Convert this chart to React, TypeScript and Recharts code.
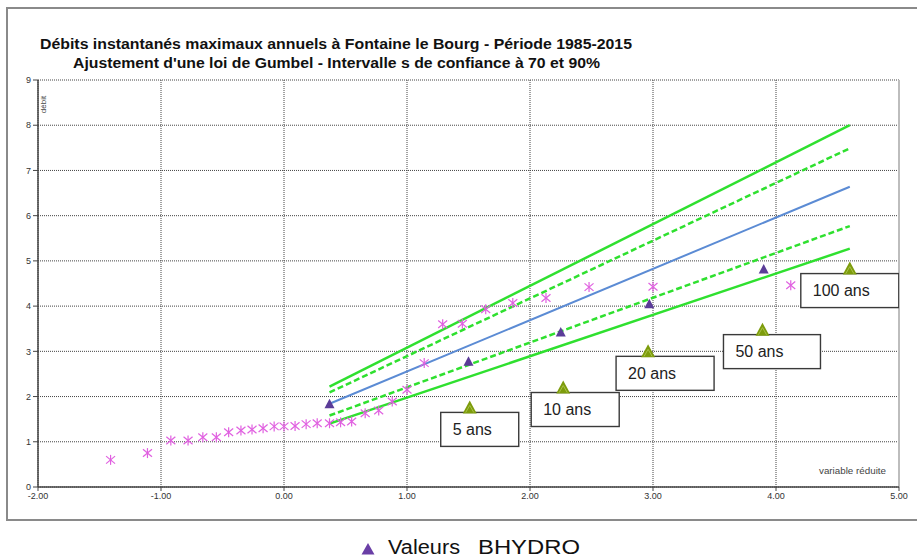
import React from "react";
import {
  CartesianGrid,
  ComposedChart,
  ReferenceLine,
  Scatter,
  XAxis,
  YAxis,
} from "recharts";

// variable réduite de Gumbel des crues observées (1985-2015)
const obsU = [
  -1.41, -1.11, -0.92, -0.78, -0.66, -0.55, -0.45, -0.35, -0.26, -0.17, -0.08,
  0.0, 0.09, 0.18, 0.27, 0.37, 0.46, 0.55, 0.66, 0.77, 0.88, 1.0, 1.14, 1.29,
  1.45, 1.64, 1.86, 2.13, 2.48, 3.0, 4.12,
];
const obsQ = [
  0.6, 0.75, 1.03, 1.03, 1.1, 1.1, 1.21, 1.25, 1.27, 1.3, 1.34, 1.34, 1.35,
  1.39, 1.41, 1.41, 1.43, 1.45, 1.63, 1.69, 1.89, 2.15, 2.74, 3.6, 3.61, 3.93,
  4.07, 4.18, 4.42, 4.43, 4.46,
];

// droite d'ajustement et intervalles de confiance
const fitU = [0.37, 4.6];
const fitCentral = [1.84, 6.64];
const upper90 = [2.22, 8.0];
const upper70 = [2.09, 7.49];
const lower70 = [1.58, 5.77];
const lower90 = [1.4, 5.27];

// valeurs BHYDRO
const bhydroU = [0.37, 1.5, 2.25, 2.97, 3.9];
const bhydroQ = [1.84, 2.78, 3.43, 4.05, 4.82];

// repères de périodes de retour
const periodLabels = ["5 ans", "10 ans", "20 ans", "50 ans", "100 ans"];
const periodU = [1.51, 2.27, 2.96, 3.89, 4.6];
const periodQ = [1.76, 2.2, 3.0, 3.48, 4.83];

const xTicks = [-2, -1, 0, 1, 2, 3, 4, 5];
const yTicks = [0, 1, 2, 3, 4, 5, 6, 7, 8, 9];

// placement des cartouches autour de chaque repère
const boxDx = [-29, -32, -32, -39, -49];
const boxW = [78, 88, 98, 97, 98];

const FONT = "'Liberation Sans', Arial, sans-serif";
const GREEN = "#2fe02f";

const toPoints = (xs: number[], ys: number[]) =>
  xs.map((x, i) => ({ x, y: ys[i] }));

const observed = toPoints(obsU, obsQ);
const bhydro = toPoints(bhydroU, bhydroQ);
const periods = periodU.map((x, i) => ({
  x,
  y: periodQ[i],
  label: periodLabels[i],
}));

function Asterisk(props: any) {
  const { cx, cy } = props;
  const r = 5;
  const d = r * 0.9;
  return (
    <g stroke="#e060e0" strokeWidth={1.2}>
      <line x1={cx} y1={cy - r} x2={cx} y2={cy + r} />
      <line x1={cx - d} y1={cy - r * 0.75} x2={cx + d} y2={cy + r * 0.75} />
      <line x1={cx - d} y1={cy + r * 0.75} x2={cx + d} y2={cy - r * 0.75} />
    </g>
  );
}

function PurpleTriangle(props: any) {
  const { cx, cy } = props;
  return (
    <path
      d={`M${cx},${cy - 5} L${cx + 5},${cy + 4.5} L${cx - 5},${cy + 4.5} Z`}
      fill="#5b3c98"
    />
  );
}

function PeriodMarker(props: any) {
  const { cx, cy, index, payload } = props;
  const i = index ?? periodLabels.indexOf(payload.label);
  const bx = cx + boxDx[i];
  const by = cy + 5;
  return (
    <g>
      <rect
        x={bx}
        y={by}
        width={boxW[i]}
        height={34}
        fill="#fff"
        stroke="#3a3a3a"
        strokeWidth={1.4}
      />
      <text
        x={bx + 12}
        y={by + 17}
        dominantBaseline="central"
        fontFamily={FONT}
        fontSize={16}
        fill="#222"
      >
        {payload.label}
      </text>
      <path
        d={`M${cx},${cy - 7} L${cx + 7},${cy + 6} L${cx - 7},${cy + 6} Z`}
        fill="#7d9c0c"
      />
      <path
        d={`M${cx - 4},${cy + 5} L${cx},${cy - 2} L${cx + 4},${cy + 5}`}
        fill="none"
        stroke="#a9c24a"
        strokeWidth={1}
      />
    </g>
  );
}

const noDot = () => <g />;

export default function App() {
  const tick = { fontSize: 9, fill: "#333", fontFamily: FONT };
  const axisLine = { stroke: "#444", strokeWidth: 1.5 };
  return (
    <div style={{ position: "absolute", left: 0, top: 0, width: 917, height: 558 }}>
      <svg
        width={917}
        height={558}
        style={{ position: "absolute", left: 0, top: 0 }}
      >
        <rect x={7} y={8} width={930} height={512} fill="#fff" stroke="#8a8a8a" strokeWidth={2} />
        <text
          x={40}
          y={49}
          fontFamily={FONT}
          fontWeight="bold"
          fontSize={14}
          fill="#111"
          textLength={592}
          lengthAdjust="spacingAndGlyphs"
        >
          Débits instantanés maximaux annuels à Fontaine le Bourg - Période 1985-2015
        </text>
        <text
          x={73}
          y={68}
          fontFamily={FONT}
          fontWeight="bold"
          fontSize={14}
          fill="#111"
          textLength={527}
          lengthAdjust="spacingAndGlyphs"
        >
          Ajustement d'une loi de Gumbel - Intervalle s de confiance à 70 et 90%
        </text>
        <text
          x={0}
          y={0}
          transform="translate(46,104.5) rotate(-90)"
          textAnchor="middle"
          fontFamily={FONT}
          fontSize={8}
          fill="#444"
        >
          débit
        </text>
        <text
          x={819}
          y={474}
          fontFamily={FONT}
          fontSize={9}
          fill="#444"
          textLength={67}
          lengthAdjust="spacingAndGlyphs"
        >
          variable réduite
        </text>
        <path d="M368,543 L374.5,554.5 L361.5,554.5 Z" fill="#6a3fa6" />
        <text x={388} y={554} fontFamily={FONT} fontSize={20} fill="#111" textLength={72} lengthAdjust="spacingAndGlyphs">
          Valeurs
        </text>
        <text x={478} y={554} fontFamily={FONT} fontSize={20} fill="#111" textLength={102} lengthAdjust="spacingAndGlyphs">
          BHYDRO
        </text>
      </svg>
      <div style={{ position: "absolute", left: 0, top: 0 }}>
        <ComposedChart
          width={917}
          height={558}
          margin={{ top: 80, right: 18, bottom: 41, left: 8 }}
        >
          <CartesianGrid stroke="#444" strokeDasharray="1 1" />
          <XAxis
            type="number"
            dataKey="x"
            domain={[-2, 5]}
            ticks={xTicks}
            tickFormatter={(v) => Number(v).toFixed(2)}
            tick={tick}
            axisLine={axisLine}
            tickLine={{ stroke: "#444" }}
            tickSize={4}
            height={30}
            allowDataOverflow
          />
          <YAxis
            type="number"
            dataKey="y"
            domain={[0, 9]}
            ticks={yTicks}
            tick={tick}
            axisLine={axisLine}
            tickLine={{ stroke: "#444" }}
            tickSize={5}
            width={30}
            allowDataOverflow
          />
          <ReferenceLine x={5} stroke="#bdbdbd" strokeWidth={2} />
          <Scatter
            data={toPoints(fitU, upper90)}
            shape={noDot}
            line={{ stroke: GREEN, strokeWidth: 2.5 }}
            isAnimationActive={false}
          />
          <Scatter
            data={toPoints(fitU, upper70)}
            shape={noDot}
            line={{ stroke: GREEN, strokeWidth: 2.5, strokeDasharray: "6 3" }}
            isAnimationActive={false}
          />
          <Scatter
            data={toPoints(fitU, fitCentral)}
            shape={noDot}
            line={{ stroke: "#5b8bd4", strokeWidth: 2 }}
            isAnimationActive={false}
          />
          <Scatter
            data={toPoints(fitU, lower70)}
            shape={noDot}
            line={{ stroke: GREEN, strokeWidth: 2.5, strokeDasharray: "6 3" }}
            isAnimationActive={false}
          />
          <Scatter
            data={toPoints(fitU, lower90)}
            shape={noDot}
            line={{ stroke: GREEN, strokeWidth: 2.5 }}
            isAnimationActive={false}
          />
          <Scatter data={observed} shape={Asterisk} isAnimationActive={false} />
          <Scatter data={bhydro} shape={PurpleTriangle} isAnimationActive={false} />
          <Scatter data={periods} shape={PeriodMarker} isAnimationActive={false} />
        </ComposedChart>
      </div>
    </div>
  );
}
